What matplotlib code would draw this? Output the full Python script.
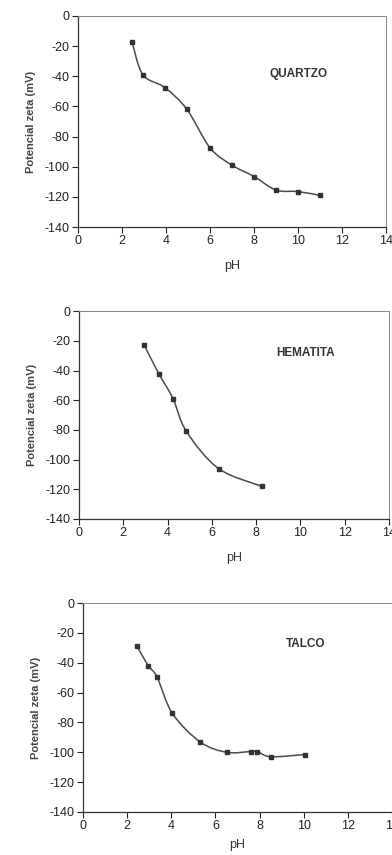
import numpy as np
import matplotlib
matplotlib.use('Agg')
from matplotlib import pyplot as plt
from matplotlib.path import Path
from matplotlib.patches import PathPatch

plt.rcParams['font.family'] = ['Liberation Sans', 'DejaVu Sans']
plt.rcParams['axes.unicode_minus'] = False

# zeta potential vs pH
quartzo_ph = [2.45, 2.95, 3.95, 4.95, 6.0, 7.0, 8.0, 9.0, 10.0, 11.0]
quartzo_zeta = [-17, -39, -47.5, -62, -87.5, -99, -106.5, -115.5, -116.5, -119]

hematita_ph = [2.95, 3.6, 4.25, 4.85, 6.3, 8.25]
hematita_zeta = [-23, -42, -59, -81, -106, -118]

talco_ph = [2.45, 2.95, 3.35, 4.05, 5.3, 6.5, 7.6, 7.9, 8.5, 10.05]
talco_zeta = [-29, -42, -49.5, -74, -93, -100, -99.5, -99.5, -103, -101.5]

LINE_COLOR = '#4a4a4a'
YLABEL = 'Potencial zeta (mV)'


def smooth_path(x, y):
    # Catmull-Rom style bezier path through the points (like Excel smoothed line)
    x = np.asarray(x, float)
    y = np.asarray(y, float)
    verts = [(x[0], y[0])]
    codes = [Path.MOVETO]
    n = len(x)
    for i in range(n - 1):
        x0, y0 = (x[i - 1], y[i - 1]) if i > 0 else (x[i], y[i])
        x3, y3 = (x[i + 2], y[i + 2]) if i + 2 < n else (x[i + 1], y[i + 1])
        c1 = (x[i] + (x[i + 1] - x0) / 6, y[i] + (y[i + 1] - y0) / 6)
        c2 = (x[i + 1] - (x3 - x[i]) / 6, y[i + 1] - (y3 - y[i]) / 6)
        verts += [c1, c2, (x[i + 1], y[i + 1])]
        codes += [Path.CURVE4] * 3
    return Path(verts, codes)


panels = [
    (quartzo_ph, quartzo_zeta, 'QUARTZO', (10.0, -38.5), [0.199, 0.7345, 0.786, 0.2468], 9),
    (hematita_ph, hematita_zeta, 'HEMATITA', (10.25, -28), [0.2015, 0.393, 0.791, 0.243], 9),
    (talco_ph, talco_zeta, 'TALCO', (10.1, -27.5), [0.212, 0.0503, 0.788, 0.2444], 5),
]

fig = plt.figure(figsize=(3.92, 8.55), dpi=100)

for ph, zeta, name, label_pos, rect, xpad in panels:
    ax = fig.add_axes(rect)
    ax.add_patch(PathPatch(smooth_path(ph, zeta), facecolor='none',
                           edgecolor=LINE_COLOR, lw=1.1))
    ax.plot(ph, zeta, ls='none', marker='s', ms=3.0, color='#333333')
    ax.set_xlim(0, 14)
    ax.set_ylim(-140, 0)
    ax.set_xticks(range(0, 15, 2))
    ax.set_yticks(range(-140, 1, 20))
    ax.tick_params(direction='out', length=4, width=0.8, labelsize=9, colors='#222222', pad=2)
    for side in ['left', 'bottom']:
        ax.spines[side].set_color('#333333')
        ax.spines[side].set_linewidth(0.9)
    for side in ['top', 'right']:
        ax.spines[side].set_color('#888888')
        ax.spines[side].set_linewidth(0.7)
    ax.set_xlabel('pH', fontsize=9, color='#333333', labelpad=xpad)
    ax.set_ylabel(YLABEL, fontsize=8, fontweight='bold', color='#444444', labelpad=6)
    ax.text(label_pos[0], label_pos[1], name, ha='center', va='center',
            fontsize=8.5, fontweight='bold', color='#333333')

fig.savefig('out.png', dpi=100)
